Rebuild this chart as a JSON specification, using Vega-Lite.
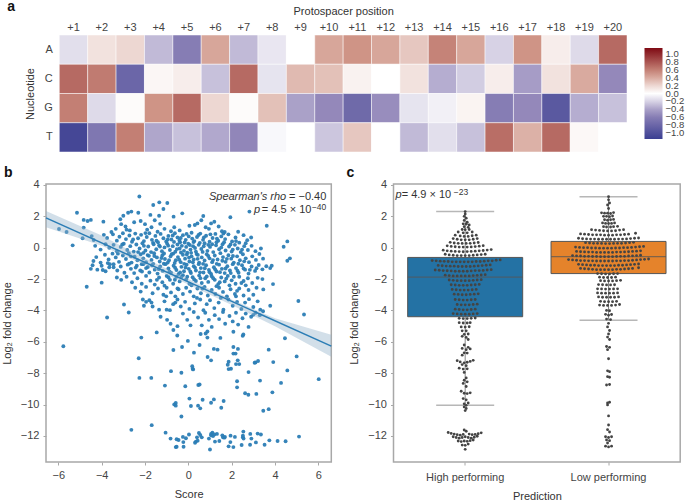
{"$schema":"https://vega.github.io/schema/vega-lite/v6.json","padding":{"left":0,"top":0,"right":0,"bottom":0},"background":"white","config":{"font":"Liberation Sans","view":{"stroke":"#a8a8a8","strokeWidth":1.5},"axis":{"labelFontSize":11,"titleFontSize":11,"labelColor":"#444","titleColor":"#333","titleFontWeight":"normal","grid":false,"domain":false,"tickColor":"#a8a8a8","tickSize":3,"labelPadding":4},"title":{"fontSize":14,"fontWeight":"bold","color":"#111","anchor":"start","frame":"group"}},"datasets":{"heat":[{"p":"+1","n":"A","v":-0.15},{"p":"+2","n":"A","v":0.15},{"p":"+3","n":"A","v":0.2},{"p":"+4","n":"A","v":-0.3},{"p":"+5","n":"A","v":-0.6},{"p":"+6","n":"A","v":0.42},{"p":"+7","n":"A","v":-0.3},{"p":"+8","n":"A","v":-0.12},{"p":"+9","n":"A","v":-0.02},{"p":"+10","n":"A","v":0.42},{"p":"+11","n":"A","v":0.5},{"p":"+12","n":"A","v":0.42},{"p":"+13","n":"A","v":0.27},{"p":"+14","n":"A","v":0.58},{"p":"+15","n":"A","v":0.42},{"p":"+16","n":"A","v":-0.2},{"p":"+17","n":"A","v":0.5},{"p":"+18","n":"A","v":0.1},{"p":"+19","n":"A","v":-0.17},{"p":"+20","n":"A","v":0.7},{"p":"+1","n":"C","v":0.7},{"p":"+2","n":"C","v":0.62},{"p":"+3","n":"C","v":-0.8},{"p":"+4","n":"C","v":0.06},{"p":"+5","n":"C","v":0.1},{"p":"+6","n":"C","v":-0.27},{"p":"+7","n":"C","v":0.7},{"p":"+8","n":"C","v":-0.13},{"p":"+9","n":"C","v":0.33},{"p":"+10","n":"C","v":0.3},{"p":"+11","n":"C","v":0.08},{"p":"+12","n":"C","v":0.0},{"p":"+13","n":"C","v":0.15},{"p":"+14","n":"C","v":-0.35},{"p":"+15","n":"C","v":-0.22},{"p":"+16","n":"C","v":0.1},{"p":"+17","n":"C","v":-0.42},{"p":"+18","n":"C","v":0.15},{"p":"+19","n":"C","v":0.4},{"p":"+20","n":"C","v":-0.5},{"p":"+1","n":"G","v":0.6},{"p":"+2","n":"G","v":-0.17},{"p":"+3","n":"G","v":0.04},{"p":"+4","n":"G","v":0.5},{"p":"+5","n":"G","v":0.7},{"p":"+6","n":"G","v":0.2},{"p":"+7","n":"G","v":0.04},{"p":"+8","n":"G","v":0.3},{"p":"+9","n":"G","v":-0.4},{"p":"+10","n":"G","v":-0.5},{"p":"+11","n":"G","v":-0.77},{"p":"+12","n":"G","v":-0.48},{"p":"+13","n":"G","v":-0.13},{"p":"+14","n":"G","v":-0.08},{"p":"+15","n":"G","v":0.07},{"p":"+16","n":"G","v":-0.6},{"p":"+17","n":"G","v":-0.5},{"p":"+18","n":"G","v":-0.92},{"p":"+19","n":"G","v":-0.35},{"p":"+20","n":"G","v":-0.27},{"p":"+1","n":"T","v":-1.08},{"p":"+2","n":"T","v":-0.65},{"p":"+3","n":"T","v":0.6},{"p":"+4","n":"T","v":-0.38},{"p":"+5","n":"T","v":-0.27},{"p":"+6","n":"T","v":-0.37},{"p":"+7","n":"T","v":-0.52},{"p":"+8","n":"T","v":-0.05},{"p":"+9","n":"T","v":0.0},{"p":"+10","n":"T","v":-0.25},{"p":"+11","n":"T","v":0.27},{"p":"+12","n":"T","v":-0.02},{"p":"+13","n":"T","v":-0.3},{"p":"+14","n":"T","v":-0.15},{"p":"+15","n":"T","v":-0.27},{"p":"+16","n":"T","v":0.68},{"p":"+17","n":"T","v":0.37},{"p":"+18","n":"T","v":0.7},{"p":"+19","n":"T","v":0.05},{"p":"+20","n":"T","v":-0.01}],"scatter":[{"x":-5.14,"y":2.23},{"x":-4.83,"y":1.77},{"x":-4.83,"y":1.28},{"x":-4.65,"y":1.7},{"x":-4.5,"y":1.77},{"x":-3.92,"y":1.66},{"x":-5.97,"y":1.19},{"x":-5.62,"y":1.0},{"x":-5.34,"y":0.15},{"x":-4.88,"y":0.6},{"x":-4.46,"y":0.74},{"x":-4.37,"y":0.49},{"x":-4.69,"y":-2.49},{"x":-4.0,"y":-2.23},{"x":-3.75,"y":-4.45},{"x":-2.75,"y":-4.13},{"x":-2.97,"y":-3.62},{"x":-1.62,"y":2.72},{"x":-1.34,"y":2.89},{"x":-0.97,"y":2.85},{"x":-1.15,"y":2.47},{"x":-2.31,"y":2.23},{"x":-2.26,"y":3.26},{"x":-2.63,"y":2.3},{"x":-2.78,"y":2.23},{"x":-3.0,"y":2.04},{"x":-3.14,"y":1.81},{"x":-1.75,"y":2.09},{"x":-1.35,"y":2.04},{"x":-0.68,"y":1.98},{"x":-0.28,"y":2.19},{"x":0.69,"y":2.02},{"x":1.94,"y":1.94},{"x":2.82,"y":2.3},{"x":3.62,"y":1.4},{"x":4.57,"y":0.4},{"x":4.4,"y":0.06},{"x":4.69,"y":-0.68},{"x":4.57,"y":-0.83},{"x":3.91,"y":-2.32},{"x":5.08,"y":-3.4},{"x":5.34,"y":-4.26},{"x":3.78,"y":-3.7},{"x":3.46,"y":-2.66},{"x":-3.35,"y":1.2},{"x":-3.55,"y":1.0},{"x":-3.1,"y":1.5},{"x":-2.9,"y":1.35},{"x":-2.7,"y":1.1},{"x":-2.5,"y":1.62},{"x":-2.2,"y":1.7},{"x":-2.0,"y":1.5},{"x":-1.9,"y":1.15},{"x":-1.55,"y":1.75},{"x":-1.7,"y":1.3},{"x":-1.3,"y":1.52},{"x":-1.1,"y":1.2},{"x":-0.8,"y":1.05},{"x":-0.65,"y":1.3},{"x":-0.4,"y":1.1},{"x":0.05,"y":1.4},{"x":0.3,"y":1.45},{"x":0.42,"y":1.55},{"x":0.6,"y":1.75},{"x":0.8,"y":1.3},{"x":0.95,"y":1.2},{"x":1.05,"y":1.55},{"x":1.2,"y":1.65},{"x":1.4,"y":1.35},{"x":1.55,"y":1.05},{"x":1.68,"y":1.0},{"x":-2.85,"y":1.15},{"x":2.3,"y":1.02},{"x":-3.9,"y":0.82},{"x":-3.75,"y":0.62},{"x":-3.48,"y":0.85},{"x":-3.3,"y":0.45},{"x":-3.18,"y":0.7},{"x":-3.02,"y":0.92},{"x":-2.88,"y":0.55},{"x":-2.72,"y":0.78},{"x":-2.6,"y":0.38},{"x":-2.45,"y":0.9},{"x":-2.32,"y":0.6},{"x":-2.18,"y":0.82},{"x":-2.05,"y":0.42},{"x":-1.92,"y":0.68},{"x":-1.8,"y":0.92},{"x":-1.68,"y":0.5},{"x":-1.52,"y":0.75},{"x":-1.4,"y":0.35},{"x":-1.28,"y":0.88},{"x":-1.15,"y":0.6},{"x":-1.02,"y":0.4},{"x":-0.92,"y":0.75},{"x":-0.78,"y":0.52},{"x":-0.62,"y":0.92},{"x":-0.5,"y":0.65},{"x":-0.38,"y":0.34},{"x":-0.25,"y":0.8},{"x":-0.12,"y":0.5},{"x":0.02,"y":0.72},{"x":0.15,"y":0.95},{"x":0.28,"y":0.42},{"x":0.4,"y":0.68},{"x":0.55,"y":0.9},{"x":0.68,"y":0.5},{"x":0.82,"y":0.76},{"x":0.98,"y":0.38},{"x":1.12,"y":0.62},{"x":1.25,"y":0.88},{"x":1.38,"y":0.45},{"x":1.52,"y":0.72},{"x":1.7,"y":0.55},{"x":1.85,"y":0.85},{"x":2.02,"y":0.4},{"x":2.18,"y":0.65},{"x":2.35,"y":0.32},{"x":2.55,"y":0.8},{"x":2.72,"y":0.48},{"x":2.9,"y":0.65},{"x":-4.3,"y":0.12},{"x":-4.05,"y":-0.12},{"x":-3.82,"y":0.22},{"x":-3.65,"y":0.0},{"x":-3.45,"y":0.18},{"x":-3.3,"y":-0.22},{"x":-3.12,"y":0.05},{"x":-2.98,"y":0.25},{"x":-2.82,"y":-0.15},{"x":-2.68,"y":0.1},{"x":-2.52,"y":-0.25},{"x":-2.4,"y":0.2},{"x":-2.25,"y":-0.05},{"x":-2.12,"y":0.28},{"x":-1.98,"y":-0.18},{"x":-1.85,"y":0.08},{"x":-1.72,"y":-0.28},{"x":-1.6,"y":0.22},{"x":-1.48,"y":-0.1},{"x":-1.35,"y":0.15},{"x":-1.22,"y":-0.22},{"x":-1.1,"y":0.02},{"x":-0.98,"y":0.26},{"x":-0.85,"y":-0.15},{"x":-0.72,"y":0.1},{"x":-0.6,"y":-0.26},{"x":-0.5,"y":0.2},{"x":-0.4,"y":-0.05},{"x":-0.3,"y":0.12},{"x":-0.2,"y":-0.2},{"x":-0.1,"y":0.05},{"x":0.0,"y":0.25},{"x":0.1,"y":-0.12},{"x":0.22,"y":0.1},{"x":0.35,"y":-0.25},{"x":0.48,"y":0.18},{"x":0.6,"y":-0.08},{"x":0.75,"y":0.28},{"x":0.88,"y":-0.2},{"x":1.0,"y":0.05},{"x":1.15,"y":-0.28},{"x":1.28,"y":0.15},{"x":1.42,"y":-0.1},{"x":1.58,"y":0.22},{"x":1.72,"y":-0.18},{"x":1.88,"y":0.08},{"x":2.0,"y":-0.25},{"x":2.15,"y":0.18},{"x":2.28,"y":-0.05},{"x":2.42,"y":-0.28},{"x":2.58,"y":0.1},{"x":2.75,"y":-0.15},{"x":2.92,"y":0.12},{"x":3.1,"y":-0.22},{"x":3.35,"y":-0.05},{"x":-4.38,"y":-0.85},{"x":-4.25,"y":-0.6},{"x":-4.05,"y":-0.95},{"x":-3.85,"y":-0.45},{"x":-3.68,"y":-0.75},{"x":-3.5,"y":-0.38},{"x":-3.35,"y":-0.62},{"x":-3.2,"y":-0.9},{"x":-3.02,"y":-0.5},{"x":-2.88,"y":-0.72},{"x":-2.75,"y":-0.35},{"x":-2.62,"y":-0.95},{"x":-2.48,"y":-0.58},{"x":-2.35,"y":-0.8},{"x":-2.2,"y":-0.42},{"x":-2.08,"y":-0.68},{"x":-1.95,"y":-0.92},{"x":-1.82,"y":-0.52},{"x":-1.7,"y":-0.78},{"x":-1.58,"y":-0.35},{"x":-1.45,"y":-0.62},{"x":-1.32,"y":-0.88},{"x":-1.2,"y":-0.48},{"x":-1.08,"y":-0.72},{"x":-0.95,"y":-0.95},{"x":-0.82,"y":-0.55},{"x":-0.7,"y":-0.38},{"x":-0.58,"y":-0.8},{"x":-0.48,"y":-0.6},{"x":-0.35,"y":-0.92},{"x":-0.25,"y":-0.45},{"x":-0.15,"y":-0.7},{"x":-0.05,"y":-0.32},{"x":0.05,"y":-0.88},{"x":0.15,"y":-0.55},{"x":0.25,"y":-0.75},{"x":0.38,"y":-0.4},{"x":0.5,"y":-0.95},{"x":0.62,"y":-0.62},{"x":0.75,"y":-0.82},{"x":0.85,"y":-0.42},{"x":0.98,"y":-0.68},{"x":1.1,"y":-0.92},{"x":1.22,"y":-0.5},{"x":1.35,"y":-0.75},{"x":1.48,"y":-0.35},{"x":1.6,"y":-0.6},{"x":1.72,"y":-0.9},{"x":1.85,"y":-0.48},{"x":1.98,"y":-0.7},{"x":2.1,"y":-0.95},{"x":2.25,"y":-0.55},{"x":2.38,"y":-0.8},{"x":2.52,"y":-0.42},{"x":2.65,"y":-0.68},{"x":2.8,"y":-0.92},{"x":2.95,"y":-0.55},{"x":3.12,"y":-0.78},{"x":3.28,"y":-0.4},{"x":3.45,"y":-0.7},{"x":-4.5,"y":-1.35},{"x":-4.42,"y":-1.12},{"x":-4.2,"y":-1.4},{"x":-4.0,"y":-1.15},{"x":-3.82,"y":-1.5},{"x":-3.65,"y":-1.25},{"x":-3.45,"y":-1.05},{"x":-3.28,"y":-1.45},{"x":-3.12,"y":-1.2},{"x":-2.95,"y":-1.6},{"x":-2.8,"y":-1.08},{"x":-2.65,"y":-1.35},{"x":-2.5,"y":-1.62},{"x":-2.38,"y":-1.15},{"x":-2.22,"y":-1.45},{"x":-2.08,"y":-1.05},{"x":-1.95,"y":-1.3},{"x":-1.8,"y":-1.58},{"x":-1.68,"y":-1.12},{"x":-1.55,"y":-1.4},{"x":-1.42,"y":-1.65},{"x":-1.3,"y":-1.2},{"x":-1.18,"y":-1.48},{"x":-1.05,"y":-1.05},{"x":-0.92,"y":-1.32},{"x":-0.8,"y":-1.6},{"x":-0.68,"y":-1.15},{"x":-0.55,"y":-1.42},{"x":-0.45,"y":-1.68},{"x":-0.32,"y":-1.22},{"x":-0.2,"y":-1.5},{"x":-0.08,"y":-1.08},{"x":0.02,"y":-1.35},{"x":0.12,"y":-1.62},{"x":0.25,"y":-1.18},{"x":0.35,"y":-1.45},{"x":0.48,"y":-1.05},{"x":0.58,"y":-1.3},{"x":0.7,"y":-1.58},{"x":0.82,"y":-1.12},{"x":0.95,"y":-1.42},{"x":1.05,"y":-1.68},{"x":1.18,"y":-1.25},{"x":1.3,"y":-1.52},{"x":1.42,"y":-1.08},{"x":1.55,"y":-1.35},{"x":1.68,"y":-1.62},{"x":1.8,"y":-1.18},{"x":1.92,"y":-1.45},{"x":2.05,"y":-1.05},{"x":2.2,"y":-1.3},{"x":2.32,"y":-1.6},{"x":2.48,"y":-1.12},{"x":2.62,"y":-1.4},{"x":2.78,"y":-1.65},{"x":2.92,"y":-1.2},{"x":3.08,"y":-1.48},{"x":3.25,"y":-1.1},{"x":3.42,"y":-1.38},{"x":3.6,"y":-1.18},{"x":3.78,"y":-1.3},{"x":3.85,"y":-1.15},{"x":-3.3,"y":-1.9},{"x":-3.1,"y":-2.05},{"x":-2.85,"y":-1.85},{"x":-2.6,"y":-2.2},{"x":-2.35,"y":-1.95},{"x":-2.15,"y":-2.3},{"x":-1.95,"y":-1.8},{"x":-1.75,"y":-2.1},{"x":-1.55,"y":-2.35},{"x":-1.35,"y":-1.9},{"x":-1.2,"y":-2.2},{"x":-1.0,"y":-1.8},{"x":-0.85,"y":-2.05},{"x":-0.7,"y":-2.3},{"x":-0.55,"y":-1.85},{"x":-0.4,"y":-2.15},{"x":-0.25,"y":-1.75},{"x":-0.1,"y":-2.02},{"x":0.05,"y":-2.3},{"x":0.2,"y":-1.88},{"x":0.35,"y":-2.12},{"x":0.5,"y":-1.78},{"x":0.62,"y":-2.25},{"x":0.78,"y":-1.95},{"x":0.92,"y":-2.18},{"x":1.08,"y":-1.82},{"x":1.22,"y":-2.05},{"x":1.38,"y":-2.32},{"x":1.52,"y":-1.9},{"x":1.68,"y":-2.15},{"x":1.82,"y":-1.8},{"x":2.0,"y":-2.08},{"x":2.18,"y":-2.3},{"x":2.35,"y":-1.85},{"x":2.55,"y":-2.12},{"x":2.75,"y":-1.95},{"x":2.95,"y":-2.25},{"x":3.2,"y":-1.92},{"x":3.42,"y":-2.0},{"x":-2.45,"y":-2.55},{"x":-2.2,"y":-2.8},{"x":-1.95,"y":-2.5},{"x":-1.65,"y":-2.9},{"x":-1.4,"y":-2.6},{"x":-1.15,"y":-3.0},{"x":-1.0,"y":-2.55},{"x":-0.8,"y":-2.85},{"x":-0.6,"y":-3.1},{"x":-0.45,"y":-2.65},{"x":-0.25,"y":-2.95},{"x":-0.1,"y":-2.55},{"x":0.08,"y":-2.8},{"x":0.25,"y":-3.1},{"x":0.42,"y":-2.6},{"x":0.58,"y":-2.9},{"x":0.75,"y":-2.5},{"x":0.9,"y":-3.05},{"x":1.08,"y":-2.7},{"x":1.25,"y":-2.95},{"x":1.42,"y":-2.55},{"x":1.6,"y":-2.82},{"x":1.78,"y":-3.1},{"x":1.95,"y":-2.65},{"x":2.15,"y":-2.95},{"x":2.35,"y":-2.6},{"x":2.55,"y":-3.05},{"x":2.78,"y":-2.7},{"x":3.0,"y":-3.0},{"x":3.15,"y":-2.55},{"x":-2.1,"y":-3.3},{"x":-1.95,"y":-3.45},{"x":-2.05,"y":-3.7},{"x":-1.8,"y":-3.35},{"x":-1.65,"y":-3.75},{"x":-1.7,"y":-3.5},{"x":-1.35,"y":-3.95},{"x":-1.1,"y":-3.42},{"x":-1.0,"y":-3.95},{"x":-0.85,"y":-3.98},{"x":-0.7,"y":-3.6},{"x":-0.5,"y":-3.3},{"x":-0.35,"y":-3.75},{"x":-0.15,"y":-3.45},{"x":0.05,"y":-3.9},{"x":0.3,"y":-3.55},{"x":0.55,"y":-3.3},{"x":0.7,"y":-3.98},{"x":0.85,"y":-3.6},{"x":1.0,"y":-3.35},{"x":1.2,"y":-3.85},{"x":1.4,"y":-3.5},{"x":1.62,"y":-3.95},{"x":1.85,"y":-3.3},{"x":2.05,"y":-3.7},{"x":2.25,"y":-3.45},{"x":2.45,"y":-3.9},{"x":2.62,"y":-3.5},{"x":2.8,"y":-3.28},{"x":3.0,"y":-3.78},{"x":3.2,"y":-3.42},{"x":3.32,"y":-3.95},{"x":-1.28,"y":-4.4},{"x":-0.98,"y":-4.6},{"x":-0.82,"y":-4.85},{"x":-0.5,"y":-5.0},{"x":-0.25,"y":-4.2},{"x":-0.05,"y":-4.6},{"x":0.1,"y":-4.95},{"x":0.25,"y":-4.1},{"x":0.45,"y":-4.45},{"x":0.62,"y":-4.95},{"x":0.78,"y":-4.15},{"x":0.95,"y":-4.6},{"x":1.08,"y":-5.05},{"x":1.22,"y":-4.3},{"x":1.42,"y":-4.55},{"x":1.6,"y":-4.1},{"x":1.7,"y":-4.85},{"x":1.9,"y":-4.35},{"x":2.05,"y":-4.7},{"x":2.2,"y":-4.15},{"x":2.3,"y":-4.9},{"x":2.5,"y":-4.5},{"x":2.65,"y":-4.2},{"x":2.78,"y":-5.05},{"x":2.9,"y":-4.4},{"x":3.1,"y":-4.15},{"x":3.3,"y":-4.3},{"x":3.45,"y":-4.05},{"x":3.0,"y":-4.28},{"x":-5.77,"y":-6.28},{"x":-2.17,"y":-5.73},{"x":-1.46,"y":-5.4},{"x":-0.51,"y":-5.6},{"x":-0.69,"y":-5.25},{"x":0.57,"y":-5.5},{"x":0.8,"y":-5.47},{"x":0.88,"y":-5.34},{"x":0.88,"y":-5.73},{"x":1.48,"y":-5.75},{"x":2.08,"y":-5.36},{"x":2.51,"y":-5.62},{"x":2.54,"y":-5.53},{"x":4.46,"y":-5.77},{"x":-0.02,"y":-5.94},{"x":-0.29,"y":-6.33},{"x":-0.69,"y":-6.52},{"x":0.52,"y":-6.2},{"x":1.18,"y":-6.45},{"x":1.35,"y":-6.5},{"x":0.26,"y":-6.69},{"x":2.08,"y":-6.33},{"x":2.29,"y":-6.45},{"x":3.71,"y":-6.5},{"x":-2.29,"y":-7.05},{"x":0.89,"y":-6.97},{"x":1.05,"y":-7.18},{"x":2.08,"y":-6.75},{"x":2.18,"y":-6.75},{"x":5.0,"y":-6.93},{"x":1.86,"y":-7.27},{"x":1.82,"y":-7.46},{"x":2.28,"y":-7.18},{"x":2.2,"y":-7.42},{"x":2.35,"y":-7.42},{"x":3.06,"y":-7.33},{"x":3.1,"y":-7.31},{"x":3.22,"y":-7.22},{"x":3.92,"y":-7.29},{"x":0.18,"y":-7.55},{"x":0.22,"y":-7.76},{"x":0.2,"y":-7.72},{"x":1.86,"y":-7.74},{"x":1.97,"y":-7.72},{"x":-0.8,"y":-7.87},{"x":-0.32,"y":-7.97},{"x":2.78,"y":-7.93},{"x":4.57,"y":-7.82},{"x":-2.26,"y":-8.3},{"x":-1.71,"y":-8.3},{"x":6.02,"y":-8.38},{"x":3.31,"y":-8.47},{"x":4.28,"y":-8.62},{"x":2.25,"y":-8.51},{"x":2.25,"y":-8.9},{"x":-1.08,"y":-8.79},{"x":-0.14,"y":-8.83},{"x":0.46,"y":-8.75},{"x":0.52,"y":-8.72},{"x":2.62,"y":-9.28},{"x":2.77,"y":-9.37},{"x":3.14,"y":-9.32},{"x":3.88,"y":-9.22},{"x":0.05,"y":-9.62},{"x":0.66,"y":-9.69},{"x":1.18,"y":-9.67},{"x":1.63,"y":-9.77},{"x":1.05,"y":-9.88},{"x":-0.65,"y":-9.99},{"x":-0.58,"y":-9.9},{"x":-0.58,"y":-10.07},{"x":0.12,"y":-10.09},{"x":0.45,"y":-10.07},{"x":0.55,"y":-10.24},{"x":1.52,"y":-10.2},{"x":3.46,"y":-10.39},{"x":3.71,"y":-10.29},{"x":-0.32,"y":-10.76},{"x":-2.63,"y":-11.61},{"x":-1.69,"y":-11.31},{"x":-1.05,"y":-11.79},{"x":-0.82,"y":-12.17},{"x":-0.54,"y":-12.21},{"x":-0.45,"y":-12.26},{"x":-0.11,"y":-12.15},{"x":-0.25,"y":-12.06},{"x":0.03,"y":-11.91},{"x":-0.23,"y":-12.39},{"x":-0.22,"y":-12.69},{"x":-0.54,"y":-12.69},{"x":-0.58,"y":-12.71},{"x":0.31,"y":-12.43},{"x":0.35,"y":-12.36},{"x":0.43,"y":-12.3},{"x":0.4,"y":-12.09},{"x":0.49,"y":-11.81},{"x":0.55,"y":-11.94},{"x":0.62,"y":-12.09},{"x":0.95,"y":-12.17},{"x":1.0,"y":-12.86},{"x":1.05,"y":-11.87},{"x":1.11,"y":-11.79},{"x":1.14,"y":-12.0},{"x":1.05,"y":-11.96},{"x":1.2,"y":-11.91},{"x":1.32,"y":-11.87},{"x":1.23,"y":-12.36},{"x":1.43,"y":-12.32},{"x":1.57,"y":-11.96},{"x":1.6,"y":-12.09},{"x":1.69,"y":-12.06},{"x":1.66,"y":-12.11},{"x":1.95,"y":-11.98},{"x":1.94,"y":-12.39},{"x":1.86,"y":-12.66},{"x":2.08,"y":-12.71},{"x":2.15,"y":-12.06},{"x":2.54,"y":-11.72},{"x":2.52,"y":-11.98},{"x":2.52,"y":-12.09},{"x":2.55,"y":-12.17},{"x":2.86,"y":-11.87},{"x":2.91,"y":-12.17},{"x":2.46,"y":-12.58},{"x":2.85,"y":-12.56},{"x":3.12,"y":-12.41},{"x":3.2,"y":-11.85},{"x":3.35,"y":-11.91},{"x":3.52,"y":-12.56},{"x":3.74,"y":-12.28},{"x":4.12,"y":-12.32},{"x":4.49,"y":-12.34},{"x":5.11,"y":-12.04},{"x":-1.63,"y":0.31},{"x":-1.47,"y":0.44},{"x":-1.31,"y":0.07},{"x":-1.12,"y":-0.37},{"x":-0.93,"y":0.13},{"x":-0.77,"y":-0.41},{"x":-0.66,"y":0.37},{"x":-0.53,"y":-0.09},{"x":-0.41,"y":0.46},{"x":-0.34,"y":-0.31},{"x":-0.17,"y":0.33},{"x":-0.07,"y":-0.44},{"x":0.07,"y":0.17},{"x":0.13,"y":-0.33},{"x":0.24,"y":0.36},{"x":0.31,"y":-0.02},{"x":0.44,"y":-0.46},{"x":0.53,"y":0.31},{"x":0.66,"y":-0.27},{"x":0.71,"y":0.09},{"x":-2.07,"y":-0.33},{"x":-1.88,"y":-0.47},{"x":-1.57,"y":-0.53},{"x":-1.24,"y":-0.66},{"x":-0.89,"y":-0.8},{"x":-0.63,"y":-0.97},{"x":-0.42,"y":-0.77},{"x":-0.19,"y":-1.03},{"x":0.03,"y":-0.63},{"x":0.21,"y":-0.93},{"x":0.43,"y":-0.71},{"x":0.68,"y":-1.03},{"x":0.92,"y":-0.53},{"x":1.14,"y":-0.79},{"x":1.31,"y":-1.03},{"x":1.57,"y":-0.83},{"x":1.78,"y":-0.71},{"x":2.06,"y":-0.53},{"x":2.31,"y":-1.02},{"x":2.58,"y":-0.87},{"x":-2.73,"y":-1.02},{"x":-2.43,"y":-1.27},{"x":-2.14,"y":-1.52},{"x":-1.87,"y":-1.23},{"x":-1.62,"y":-1.03},{"x":-1.36,"y":-1.37},{"x":-1.13,"y":-1.02},{"x":-0.87,"y":-1.51},{"x":-0.61,"y":-1.28},{"x":-0.38,"y":-1.58},{"x":-0.13,"y":-1.27},{"x":0.09,"y":-1.52},{"x":0.31,"y":-1.27},{"x":0.54,"y":-1.57},{"x":0.76,"y":-1.31},{"x":0.98,"y":-1.56},{"x":1.24,"y":-1.38},{"x":1.46,"y":-1.56},{"x":1.72,"y":-1.33},{"x":1.96,"y":-1.62},{"x":2.27,"y":-1.47},{"x":2.55,"y":-1.33},{"x":2.84,"y":-1.41},{"x":3.15,"y":-1.31},{"x":-0.92,"y":-1.88},{"x":-0.62,"y":-2.04},{"x":-0.32,"y":-1.87},{"x":-0.05,"y":-1.85},{"x":0.27,"y":-2.02},{"x":0.56,"y":-1.94},{"x":0.85,"y":-1.83},{"x":1.15,"y":-1.95},{"x":1.45,"y":-2.2},{"x":1.75,"y":-1.97},{"x":2.1,"y":-1.85},{"x":2.45,"y":-2.25},{"x":-1.45,"y":-2.05},{"x":-1.1,"y":-2.42},{"x":-0.5,"y":-2.6},{"x":0.15,"y":-2.4},{"x":0.65,"y":-2.6},{"x":1.3,"y":-2.45},{"x":1.9,"y":-2.4},{"x":2.25,"y":-2.75},{"x":2.65,"y":-2.4},{"x":-0.95,"y":0.52},{"x":-0.72,"y":0.78},{"x":-0.35,"y":0.62},{"x":-0.08,"y":0.88},{"x":0.18,"y":0.58},{"x":0.47,"y":0.81},{"x":0.72,"y":0.66},{"x":1.02,"y":0.85},{"x":1.32,"y":0.58},{"x":1.62,"y":0.9},{"x":-1.42,"y":1.02},{"x":-1.98,"y":0.93},{"x":-2.55,"y":0.52},{"x":-3.05,"y":0.2},{"x":-3.25,"y":-0.38},{"x":-2.65,"y":-0.55},{"x":-2.05,"y":0.12},{"x":-2.32,"y":-0.28},{"x":1.65,"y":0.35},{"x":1.95,"y":0.2},{"x":2.2,"y":0.42},{"x":2.48,"y":-0.12},{"x":2.65,"y":0.28},{"x":2.05,"y":-0.12},{"x":1.52,"y":0.02},{"x":1.3,"y":0.35},{"x":1.1,"y":0.22},{"x":0.92,"y":0.18},{"x":-3.45,"y":-1.25},{"x":-3.62,"y":-1.05},{"x":-3.95,"y":-1.42},{"x":-3.72,"y":-0.98},{"x":-2.15,"y":-1.05},{"x":-1.02,"y":-3.1},{"x":-0.6,"y":-3.5},{"x":0.4,"y":-3.2},{"x":1.5,"y":-3.2},{"x":2.2,"y":-3.1}],"high":[{"o":0,"y":2.3},{"o":0,"y":2.14},{"o":-1,"y":2.0},{"o":1,"y":1.88},{"o":-1,"y":1.74},{"o":2,"y":1.62},{"o":-2,"y":1.52},{"o":1,"y":1.5},{"o":4,"y":1.45},{"o":-1,"y":1.34},{"o":3,"y":1.3},{"o":-3,"y":1.16},{"o":0,"y":1.15},{"o":4,"y":1.16},{"o":-7,"y":1.0},{"o":-2,"y":0.95},{"o":2,"y":0.95},{"o":7,"y":1.0},{"o":-10,"y":0.8},{"o":-5,"y":0.75},{"o":-1,"y":0.72},{"o":3,"y":0.72},{"o":7,"y":0.76},{"o":11,"y":0.8},{"o":-12,"y":0.58},{"o":-8,"y":0.54},{"o":-4,"y":0.5},{"o":0,"y":0.5},{"o":4,"y":0.5},{"o":8,"y":0.54},{"o":12,"y":0.58},{"o":-15,"y":0.34},{"o":-11,"y":0.3},{"o":-7,"y":0.28},{"o":-3,"y":0.27},{"o":1,"y":0.27},{"o":5,"y":0.28},{"o":9,"y":0.3},{"o":13,"y":0.33},{"o":-18,"y":0.12},{"o":-14,"y":0.08},{"o":-10,"y":0.06},{"o":-6,"y":0.04},{"o":-2,"y":0.04},{"o":2,"y":0.04},{"o":6,"y":0.05},{"o":10,"y":0.07},{"o":14,"y":0.1},{"o":18,"y":0.13},{"o":-22,"y":-0.16},{"o":-18,"y":-0.2},{"o":-14,"y":-0.22},{"o":-10,"y":-0.24},{"o":-6,"y":-0.25},{"o":-2,"y":-0.26},{"o":2,"y":-0.25},{"o":6,"y":-0.24},{"o":10,"y":-0.22},{"o":14,"y":-0.2},{"o":18,"y":-0.18},{"o":22,"y":-0.15},{"o":26,"y":-0.12},{"o":-20,"y":-0.42},{"o":-16,"y":-0.46},{"o":-12,"y":-0.48},{"o":-8,"y":-0.5},{"o":-4,"y":-0.5},{"o":0,"y":-0.5},{"o":4,"y":-0.5},{"o":8,"y":-0.48},{"o":12,"y":-0.46},{"o":16,"y":-0.44},{"o":20,"y":-0.42},{"o":-33,"y":-0.82},{"o":-29,"y":-0.84},{"o":-25,"y":-0.86},{"o":-21,"y":-0.87},{"o":-17,"y":-0.88},{"o":-13,"y":-0.9},{"o":-9,"y":-0.9},{"o":-5,"y":-0.9},{"o":-1,"y":-0.9},{"o":3,"y":-0.9},{"o":7,"y":-0.9},{"o":11,"y":-0.88},{"o":15,"y":-0.88},{"o":19,"y":-0.86},{"o":23,"y":-0.84},{"o":27,"y":-0.84},{"o":31,"y":-0.8},{"o":35,"y":-0.78},{"o":-27,"y":-1.13},{"o":-23,"y":-1.15},{"o":-19,"y":-1.17},{"o":-15,"y":-1.18},{"o":-11,"y":-1.18},{"o":-7,"y":-1.2},{"o":-3,"y":-1.2},{"o":1,"y":-1.2},{"o":5,"y":-1.2},{"o":9,"y":-1.18},{"o":13,"y":-1.16},{"o":17,"y":-1.14},{"o":21,"y":-1.12},{"o":25,"y":-1.1},{"o":-30,"y":-1.42},{"o":-26,"y":-1.44},{"o":-22,"y":-1.46},{"o":-18,"y":-1.47},{"o":-14,"y":-1.48},{"o":-10,"y":-1.5},{"o":-6,"y":-1.5},{"o":-2,"y":-1.5},{"o":2,"y":-1.5},{"o":6,"y":-1.48},{"o":10,"y":-1.46},{"o":14,"y":-1.46},{"o":18,"y":-1.45},{"o":22,"y":-1.42},{"o":26,"y":-1.4},{"o":-20,"y":-1.75},{"o":-16,"y":-1.78},{"o":-12,"y":-1.8},{"o":-8,"y":-1.8},{"o":-4,"y":-1.8},{"o":0,"y":-1.8},{"o":4,"y":-1.8},{"o":8,"y":-1.78},{"o":12,"y":-1.76},{"o":16,"y":-1.74},{"o":20,"y":-1.72},{"o":-16,"y":-2.06},{"o":-12,"y":-2.08},{"o":-8,"y":-2.1},{"o":-4,"y":-2.1},{"o":0,"y":-2.1},{"o":4,"y":-2.1},{"o":8,"y":-2.08},{"o":12,"y":-2.06},{"o":16,"y":-2.04},{"o":-14,"y":-2.36},{"o":-10,"y":-2.38},{"o":-6,"y":-2.4},{"o":-2,"y":-2.4},{"o":2,"y":-2.4},{"o":6,"y":-2.38},{"o":10,"y":-2.36},{"o":14,"y":-2.34},{"o":-13,"y":-2.66},{"o":-9,"y":-2.68},{"o":-5,"y":-2.7},{"o":-1,"y":-2.7},{"o":3,"y":-2.7},{"o":7,"y":-2.68},{"o":11,"y":-2.66},{"o":-11,"y":-2.96},{"o":-7,"y":-2.98},{"o":-3,"y":-3.0},{"o":1,"y":-3.0},{"o":5,"y":-2.98},{"o":9,"y":-2.96},{"o":13,"y":-2.94},{"o":-10,"y":-3.3},{"o":-6,"y":-3.32},{"o":-2,"y":-3.34},{"o":2,"y":-3.34},{"o":6,"y":-3.32},{"o":10,"y":-3.3},{"o":-8,"y":-3.62},{"o":-4,"y":-3.64},{"o":0,"y":-3.64},{"o":4,"y":-3.64},{"o":8,"y":-3.62},{"o":12,"y":-3.6},{"o":-10,"y":-3.92},{"o":-6,"y":-3.94},{"o":-2,"y":-3.96},{"o":2,"y":-3.96},{"o":6,"y":-3.94},{"o":10,"y":-3.92},{"o":-12,"y":-4.2},{"o":-8,"y":-4.22},{"o":-4,"y":-4.24},{"o":0,"y":-4.24},{"o":4,"y":-4.24},{"o":8,"y":-4.22},{"o":12,"y":-4.2},{"o":-6,"y":-4.5},{"o":-2,"y":-4.52},{"o":2,"y":-4.52},{"o":6,"y":-4.5},{"o":10,"y":-4.48},{"o":-6,"y":-4.78},{"o":-2,"y":-4.8},{"o":2,"y":-4.8},{"o":5,"y":-4.78},{"o":-4,"y":-5.05},{"o":0,"y":-5.06},{"o":4,"y":-5.04},{"o":-3,"y":-5.3},{"o":1,"y":-5.3},{"o":3,"y":-5.5},{"o":-1,"y":-5.52},{"o":-3,"y":-5.65},{"o":1,"y":-5.72},{"o":3,"y":-5.85},{"o":-1,"y":-6.2},{"o":3,"y":-6.35},{"o":-3,"y":-6.42},{"o":1,"y":-6.5},{"o":5,"y":-6.45},{"o":-1,"y":-6.7},{"o":2,"y":-6.72},{"o":-3,"y":-6.85},{"o":-8,"y":-7.2},{"o":-5,"y":-7.28},{"o":-1,"y":-7.34},{"o":2,"y":-7.3},{"o":5,"y":-7.25},{"o":8,"y":-7.18},{"o":-3,"y":-7.45},{"o":1,"y":-7.52},{"o":-6,"y":-7.68},{"o":-2,"y":-7.74},{"o":2,"y":-7.72},{"o":-1,"y":-7.95},{"o":1,"y":-8.3},{"o":-1,"y":-8.45},{"o":2,"y":-8.55},{"o":-2,"y":-8.65},{"o":1,"y":-8.85},{"o":-4,"y":-9.15},{"o":-1,"y":-9.28},{"o":2,"y":-9.3},{"o":5,"y":-9.25},{"o":-2,"y":-9.62},{"o":1,"y":-9.7},{"o":3,"y":-9.9},{"o":-1,"y":-9.95},{"o":1,"y":-10.05},{"o":-1,"y":-10.15},{"o":1,"y":-10.25},{"o":0,"y":-10.38},{"o":-17,"y":-11.78},{"o":-14,"y":-11.84},{"o":-11,"y":-11.88},{"o":-8,"y":-11.92},{"o":-5,"y":-11.95},{"o":-2,"y":-11.9},{"o":1,"y":-11.7},{"o":4,"y":-11.88},{"o":7,"y":-11.92},{"o":10,"y":-11.9},{"o":13,"y":-11.86},{"o":16,"y":-11.8},{"o":-1,"y":-11.62},{"o":-12,"y":-12.05},{"o":-9,"y":-12.1},{"o":-6,"y":-12.14},{"o":-3,"y":-12.1},{"o":0,"y":-12.05},{"o":3,"y":-12.1},{"o":6,"y":-12.14},{"o":9,"y":-12.08},{"o":12,"y":-12.02},{"o":-7,"y":-12.32},{"o":-4,"y":-12.36},{"o":-1,"y":-12.32},{"o":2,"y":-12.34},{"o":5,"y":-12.3},{"o":8,"y":-12.26},{"o":-3,"y":-12.58},{"o":0,"y":-12.6},{"o":3,"y":-12.52},{"o":0,"y":-12.85}],"low":[{"o":0,"y":3.25},{"o":0,"y":3.05},{"o":1,"y":2.85},{"o":-1,"y":2.72},{"o":0,"y":2.5},{"o":-7,"y":2.22},{"o":-4,"y":2.2},{"o":-1,"y":2.2},{"o":2,"y":2.18},{"o":5,"y":2.24},{"o":-5,"y":2.0},{"o":-2,"y":2.0},{"o":1,"y":1.98},{"o":4,"y":2.02},{"o":-4,"y":1.78},{"o":-1,"y":1.75},{"o":2,"y":1.78},{"o":5,"y":1.8},{"o":-6,"y":1.58},{"o":-3,"y":1.55},{"o":0,"y":1.54},{"o":3,"y":1.55},{"o":6,"y":1.58},{"o":-5,"y":1.34},{"o":-2,"y":1.32},{"o":2,"y":1.32},{"o":5,"y":1.34},{"o":9,"y":1.36},{"o":-17,"y":1.15},{"o":-13,"y":1.12},{"o":-9,"y":1.1},{"o":-5,"y":1.08},{"o":-1,"y":1.07},{"o":3,"y":1.07},{"o":7,"y":1.08},{"o":11,"y":1.12},{"o":15,"y":1.15},{"o":-28,"y":0.88},{"o":-24,"y":0.86},{"o":-20,"y":0.84},{"o":-16,"y":0.82},{"o":-12,"y":0.82},{"o":-8,"y":0.82},{"o":-4,"y":0.8},{"o":0,"y":0.8},{"o":4,"y":0.8},{"o":8,"y":0.82},{"o":12,"y":0.82},{"o":16,"y":0.84},{"o":20,"y":0.86},{"o":27,"y":0.92},{"o":-30,"y":0.6},{"o":-26,"y":0.57},{"o":-22,"y":0.56},{"o":-18,"y":0.55},{"o":-14,"y":0.55},{"o":-10,"y":0.54},{"o":-6,"y":0.54},{"o":-2,"y":0.54},{"o":2,"y":0.54},{"o":6,"y":0.54},{"o":10,"y":0.55},{"o":14,"y":0.55},{"o":18,"y":0.56},{"o":22,"y":0.58},{"o":26,"y":0.6},{"o":30,"y":0.62},{"o":-23,"y":0.32},{"o":-19,"y":0.3},{"o":-15,"y":0.28},{"o":-11,"y":0.28},{"o":-7,"y":0.27},{"o":-3,"y":0.26},{"o":1,"y":0.26},{"o":5,"y":0.27},{"o":9,"y":0.28},{"o":13,"y":0.28},{"o":17,"y":0.3},{"o":21,"y":0.32},{"o":25,"y":0.34},{"o":-33,"y":0.04},{"o":-29,"y":0.02},{"o":-25,"y":0.0},{"o":-21,"y":0.0},{"o":-17,"y":-0.02},{"o":-13,"y":-0.02},{"o":-9,"y":-0.03},{"o":-5,"y":-0.03},{"o":-1,"y":-0.03},{"o":3,"y":-0.03},{"o":7,"y":-0.02},{"o":11,"y":-0.02},{"o":15,"y":0.0},{"o":19,"y":0.0},{"o":23,"y":0.02},{"o":27,"y":0.04},{"o":31,"y":0.06},{"o":35,"y":0.08},{"o":-32,"y":-0.24},{"o":-28,"y":-0.26},{"o":-24,"y":-0.27},{"o":-20,"y":-0.28},{"o":-16,"y":-0.28},{"o":-12,"y":-0.3},{"o":-8,"y":-0.3},{"o":-4,"y":-0.3},{"o":0,"y":-0.3},{"o":4,"y":-0.3},{"o":8,"y":-0.28},{"o":12,"y":-0.28},{"o":16,"y":-0.27},{"o":20,"y":-0.26},{"o":24,"y":-0.24},{"o":28,"y":-0.22},{"o":32,"y":-0.2},{"o":-36,"y":-0.5},{"o":-32,"y":-0.52},{"o":-28,"y":-0.53},{"o":-24,"y":-0.55},{"o":-20,"y":-0.55},{"o":-16,"y":-0.56},{"o":-12,"y":-0.56},{"o":-8,"y":-0.57},{"o":-4,"y":-0.57},{"o":0,"y":-0.57},{"o":4,"y":-0.57},{"o":8,"y":-0.56},{"o":12,"y":-0.55},{"o":16,"y":-0.55},{"o":20,"y":-0.53},{"o":24,"y":-0.52},{"o":28,"y":-0.5},{"o":32,"y":-0.48},{"o":-40,"y":-0.76},{"o":-36,"y":-0.78},{"o":-32,"y":-0.8},{"o":-28,"y":-0.82},{"o":-24,"y":-0.82},{"o":-20,"y":-0.84},{"o":-16,"y":-0.84},{"o":-12,"y":-0.85},{"o":-8,"y":-0.85},{"o":-4,"y":-0.85},{"o":0,"y":-0.85},{"o":4,"y":-0.85},{"o":8,"y":-0.84},{"o":12,"y":-0.84},{"o":16,"y":-0.82},{"o":20,"y":-0.82},{"o":24,"y":-0.8},{"o":28,"y":-0.78},{"o":32,"y":-0.76},{"o":36,"y":-0.74},{"o":40,"y":-0.72},{"o":-30,"y":-1.06},{"o":-26,"y":-1.08},{"o":-22,"y":-1.1},{"o":-18,"y":-1.12},{"o":-14,"y":-1.12},{"o":-10,"y":-1.14},{"o":-6,"y":-1.14},{"o":-2,"y":-1.14},{"o":2,"y":-1.14},{"o":6,"y":-1.14},{"o":10,"y":-1.12},{"o":14,"y":-1.12},{"o":18,"y":-1.1},{"o":22,"y":-1.08},{"o":26,"y":-1.06},{"o":30,"y":-1.04},{"o":-28,"y":-1.32},{"o":-24,"y":-1.34},{"o":-20,"y":-1.36},{"o":-16,"y":-1.38},{"o":-12,"y":-1.4},{"o":-8,"y":-1.4},{"o":-4,"y":-1.4},{"o":0,"y":-1.4},{"o":4,"y":-1.4},{"o":8,"y":-1.38},{"o":12,"y":-1.38},{"o":16,"y":-1.36},{"o":20,"y":-1.34},{"o":24,"y":-1.32},{"o":30,"y":-1.28},{"o":-11,"y":-1.65},{"o":-7,"y":-1.66},{"o":-3,"y":-1.67},{"o":1,"y":-1.67},{"o":5,"y":-1.66},{"o":9,"y":-1.65},{"o":-9,"y":-1.88},{"o":-5,"y":-1.9},{"o":-1,"y":-1.9},{"o":3,"y":-1.9},{"o":7,"y":-1.88},{"o":-8,"y":-2.1},{"o":-4,"y":-2.12},{"o":0,"y":-2.12},{"o":4,"y":-2.12},{"o":8,"y":-2.1},{"o":12,"y":-2.08},{"o":-10,"y":-2.35},{"o":-6,"y":-2.36},{"o":-2,"y":-2.37},{"o":2,"y":-2.37},{"o":6,"y":-2.36},{"o":-11,"y":-2.62},{"o":-7,"y":-2.63},{"o":-3,"y":-2.64},{"o":1,"y":-2.64},{"o":5,"y":-2.63},{"o":9,"y":-2.62},{"o":-11,"y":-2.88},{"o":-7,"y":-2.9},{"o":-3,"y":-2.9},{"o":1,"y":-2.9},{"o":5,"y":-2.9},{"o":9,"y":-2.88},{"o":-10,"y":-3.14},{"o":-6,"y":-3.16},{"o":-2,"y":-3.16},{"o":2,"y":-3.16},{"o":6,"y":-3.16},{"o":10,"y":-3.14},{"o":-8,"y":-3.42},{"o":-4,"y":-3.44},{"o":0,"y":-3.44},{"o":4,"y":-3.44},{"o":8,"y":-3.42},{"o":-9,"y":-3.66},{"o":-5,"y":-3.68},{"o":-1,"y":-3.68},{"o":3,"y":-3.68},{"o":7,"y":-3.66},{"o":11,"y":-3.62},{"o":-2,"y":-4.0},{"o":1,"y":-4.02},{"o":-3,"y":-4.25},{"o":0,"y":-4.3},{"o":3,"y":-4.26},{"o":-2,"y":-4.55},{"o":2,"y":-4.58},{"o":0,"y":-4.82},{"o":-1,"y":-5.05},{"o":1,"y":-5.28},{"o":0,"y":-5.5},{"o":-1,"y":-5.7},{"o":1,"y":-5.85},{"o":-2,"y":-6.3},{"o":1,"y":-6.35},{"o":-1,"y":-6.5},{"o":0,"y":-7.08},{"o":-1,"y":-7.85},{"o":1,"y":-7.9},{"o":-1,"y":-8.22},{"o":1,"y":-8.26},{"o":-2,"y":-8.75},{"o":1,"y":-8.72},{"o":-1,"y":-9.9},{"o":1,"y":-9.85},{"o":-1,"y":-10.02},{"o":0,"y":-10.72},{"o":0,"y":-11.3},{"o":-1,"y":-11.6},{"o":1,"y":-11.75},{"o":-3,"y":-12.05},{"o":0,"y":-12.1},{"o":3,"y":-12.05},{"o":-2,"y":-12.25},{"o":1,"y":-12.3},{"o":-1,"y":-12.45},{"o":-3,"y":-12.65},{"o":0,"y":-12.7},{"o":3,"y":-12.65}]},"spacing":12,"bounds":"full","align":"none","vconcat":[{"spacing":-42.7,"align":"none","hconcat":[{"width":1,"height":1,"view":{"stroke":null},"data":{"values":[{"k":0}]},"mark":{"type":"point","opacity":0},"encoding":{"x":{"field":"k","type":"quantitative","axis":null},"y":{"field":"k","type":"quantitative","axis":null}}},{"width":567.7,"height":117,"title":{"text":"a","dx":-52,"offset":-9},"view":{"stroke":null},"data":{"name":"heat"},"mark":{"type":"rect","stroke":"white","strokeWidth":0.5,"width":28.4,"height":29.25},"encoding":{"x":{"field":"p","type":"ordinal","scale":{"domain":["+1","+2","+3","+4","+5","+6","+7","+8","+9","+10","+11","+12","+13","+14","+15","+16","+17","+18","+19","+20"],"paddingInner":0,"paddingOuter":0},"axis":{"orient":"top","title":"Protospacer position","labelAngle":0,"ticks":false,"titlePadding":5,"labelPadding":3}},"y":{"field":"n","type":"ordinal","scale":{"domain":["A","C","G","T"],"paddingInner":0,"paddingOuter":0},"axis":{"title":"Nucleotide","ticks":false,"labelAngle":0,"titlePadding":8,"labelPadding":7}},"color":{"field":"v","type":"quantitative","scale":{"domain":[-1.15,-0.5,-0.02,0.02,0.5,1.15],"range":["#3b3f92","#9488ba","#ffffff","#ffffff","#cf9486","#7f0a14"],"interpolate":"rgb"},"legend":{"title":null,"orient":"none","legendX":598.5,"legendY":13,"gradientLength":91,"gradientThickness":18,"values":[-1,-0.8,-0.6,-0.4,-0.2,0,0.2,0.4,0.6,0.8,1],"format":".1f","labelFontSize":9.5,"labelColor":"#444","labelOverlap":false,"labelOffset":3}}}}]},{"spacing":9.5,"bounds":"full","align":"none","hconcat":[{"width":285.3,"height":278,"title":{"text":"b","dx":-42,"offset":-1},"layer":[{"data":{"name":"scatter"},"mark":{"type":"circle","size":15,"color":"#2b7db5","opacity":0.95},"encoding":{"x":{"field":"x","type":"quantitative"},"y":{"field":"y","type":"quantitative"}}},{"data":{"values":[{"x":-6.57,"lo":1.3,"hi":2.34,"m":1.9},{"x":-4,"lo":0.12,"hi":0.78,"m":0.36},{"x":-2,"lo":-1.1,"hi":-0.68,"m":-0.89},{"x":0,"lo":-2.35,"hi":-2.0,"m":-2.17},{"x":2,"lo":-3.65,"hi":-3.3,"m":-3.4},{"x":4,"lo":-5.0,"hi":-4.5,"m":-4.65},{"x":6.6,"lo":-6.95,"hi":-5.55,"m":-6.27}]},"layer":[{"mark":{"type":"area","color":"#8fb0c8","opacity":0.4},"encoding":{"x":{"field":"x","type":"quantitative","scale":{"domain":[-6.57,6.6],"nice":false},"axis":{"title":"Score","values":[-6,-4,-2,0,2,4,6],"tickCount":7,"titlePadding":8,"labelOverlap":false}},"y":{"field":"lo","type":"quantitative","scale":{"domain":[-13.66,4.06],"nice":false},"axis":{"title":"Log₂ fold change","values":[-12,-10,-8,-6,-4,-2,0,2,4],"tickCount":9,"titlePadding":8,"labelOverlap":false}},"y2":{"field":"hi"}}}]},{"data":{"values":[{"x":-6.57,"m":1.9},{"x":6.6,"m":-6.27}]},"mark":{"type":"line","color":"#2b7db5","strokeWidth":1.5},"encoding":{"x":{"field":"x","type":"quantitative"},"y":{"field":"m","type":"quantitative"}}},{"data":{"values":[{"x":4.52,"y":3.24,"t":"Spearman's rho"},{"x":3.32,"y":2.41,"t":"p"}]},"mark":{"type":"text","align":"right","fontSize":11,"fontStyle":"italic","color":"#333"},"encoding":{"x":{"field":"x","type":"quantitative"},"y":{"field":"y","type":"quantitative"},"text":{"field":"t"}}},{"data":{"values":[{"x":6.37,"y":3.24,"t":"= −0.40"},{"x":5.68,"y":2.41,"t":"= 4.5 × 10"}]},"mark":{"type":"text","align":"right","fontSize":11,"color":"#333"},"encoding":{"x":{"field":"x","type":"quantitative"},"y":{"field":"y","type":"quantitative"},"text":{"field":"t"}}},{"data":{"values":[{"x":6.37,"y":2.62,"t":"−40"}]},"mark":{"type":"text","align":"right","fontSize":8.5,"color":"#333"},"encoding":{"x":{"field":"x","type":"quantitative"},"y":{"field":"y","type":"quantitative"},"text":{"field":"t"}}}]},{"width":286.7,"height":278,"title":{"text":"c","dx":-47,"offset":-1},"layer":[{"data":{"values":[{"p":"High performing","q3":-0.62,"med":-1.87,"q1":-4.4,"hi":2.3,"lo":-10.05,"c":"h"},{"p":"Low performing","q3":0.4,"med":-0.57,"q1":-1.65,"hi":3.25,"lo":-4.63,"c":"l"}]},"layer":[{"mark":{"type":"rule","color":"#888"},"encoding":{"x":{"field":"p","type":"nominal","scale":{"domain":["High performing","Low performing"],"paddingInner":0,"paddingOuter":0},"axis":{"title":"Prediction","labelAngle":0,"titlePadding":8,"labelPadding":6}},"y":{"field":"lo","type":"quantitative","scale":{"domain":[-13.66,4.06],"nice":false},"axis":{"title":"Log₂ fold change","values":[-12,-10,-8,-6,-4,-2,0,2,4],"tickCount":9,"titlePadding":8,"labelOverlap":false}},"y2":{"field":"hi"}}},{"mark":{"type":"tick","color":"#999","size":58,"thickness":1.5},"encoding":{"x":{"field":"p","type":"nominal"},"y":{"field":"lo","type":"quantitative"}}},{"mark":{"type":"tick","color":"#999","size":58,"thickness":1.5},"encoding":{"x":{"field":"p","type":"nominal"},"y":{"field":"hi","type":"quantitative"}}},{"mark":{"type":"bar","stroke":"#555","strokeWidth":1,"width":115},"encoding":{"x":{"field":"p","type":"nominal"},"y":{"field":"q1","type":"quantitative"},"y2":{"field":"q3"},"color":{"field":"c","type":"nominal","scale":{"domain":["h","l"],"range":["#2472a4","#e5832b"]},"legend":null}}},{"mark":{"type":"tick","color":"#555","size":115,"thickness":1.2},"encoding":{"x":{"field":"p","type":"nominal"},"y":{"field":"med","type":"quantitative"}}}]},{"data":{"name":"high"},"mark":{"type":"circle","size":8,"color":"#444","opacity":1},"encoding":{"x":{"datum":"High performing","type":"nominal"},"xOffset":{"field":"o","type":"quantitative","scale":{"domain":[-60,60],"range":[11.7,131.7]}},"y":{"field":"y","type":"quantitative"}}},{"data":{"name":"low"},"mark":{"type":"circle","size":8,"color":"#444","opacity":1},"encoding":{"x":{"datum":"Low performing","type":"nominal"},"xOffset":{"field":"o","type":"quantitative"},"y":{"field":"y","type":"quantitative"}}},{"data":{"values":[{"o":-63.5,"y":3.36,"t":"p"}]},"mark":{"type":"text","align":"right","fontSize":11,"fontStyle":"italic","color":"#333"},"encoding":{"x":{"datum":"High performing","type":"nominal"},"xOffset":{"field":"o","type":"quantitative"},"y":{"field":"y","type":"quantitative"},"text":{"field":"t"}}},{"data":{"values":[{"o":-14,"y":3.36,"t":"= 4.9 × 10"}]},"mark":{"type":"text","align":"right","fontSize":11,"color":"#333"},"encoding":{"x":{"datum":"High performing","type":"nominal"},"xOffset":{"field":"o","type":"quantitative"},"y":{"field":"y","type":"quantitative"},"text":{"field":"t"}}},{"data":{"values":[{"o":3,"y":3.56,"t":"−23"}]},"mark":{"type":"text","align":"right","fontSize":8.5,"color":"#333"},"encoding":{"x":{"datum":"High performing","type":"nominal"},"xOffset":{"field":"o","type":"quantitative"},"y":{"field":"y","type":"quantitative"},"text":{"field":"t"}}}]}]}]}
